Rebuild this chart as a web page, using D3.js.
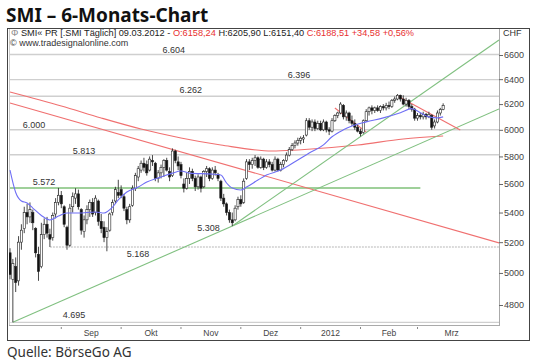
<!DOCTYPE html>
<html>
<head>
<meta charset="utf-8">
<script src="https://cdn.jsdelivr.net/npm/d3@7"></script>
<style>
body { margin:0; background:#fff; }
text { font-family: "Liberation Sans", Arial, sans-serif; }
</style>
</head>
<body>
<div id="chart-area"></div>
<script>
// daily candles, 08.08.2011 - 09.03.2012
var open = [
    5130,4960,5040,4950,5200,5290,5400,5370,5400,5290,5120,5040,5250,5320,5250,5230,5390,5470,
    5520,5440,5300,5180,5440,5500,5530,5420,5270,5350,5420,5470,5400,5480,5340,5300,5230,5280,5400,5480,5540,
    5560,5510,5420,5350,5450,5570,5650,5700,5750,5740,5700,5770,5750,5640,5680,5720,5770,5690,5660,5840,5760,
    5740,5600,5570,5640,5690,5640,5580,5650,5580,5690,5710,5640,5700,5670,5620,5500,5460,5400,5350,5350,5440,
    5490,5470,5640,5760,5740,5770,5790,5720,5780,5720,5760,5740,5700,5780,5700,5740,5770,5810,5850,5880,5900,
    5920,5930,5960,6070,6020,6060,6010,6050,6000,6060,6000,5990,6070,6110,6130,6190,6100,6130,6070,6050,6020,
    5990,5980,6070,6140,6170,6150,6170,6150,6180,6170,6190,6180,6230,6240,6270,6240,6200,6230,6180,6160,
    6090,6110,6100,6120,6100,6110,6030,6060,6130,6158.24];
var high = [
    5160,5090,5100,5240,5320,5440,5460,5470,5420,5300,5170,5330,5360,5370,5290,5400,5500,5572,
    5550,5450,5310,5460,5540,5570,5560,5430,5380,5450,5490,5500,5520,5490,5390,5340,5300,5400,5490,5580,5630,
    5590,5530,5440,5460,5590,5680,5730,5770,5790,5770,5800,5810,5760,5700,5740,5780,5790,5720,5860,5850,5800,
    5760,5640,5680,5720,5710,5660,5670,5660,5700,5730,5720,5720,5730,5680,5630,5530,5470,5420,5400,5450,5510,
    5520,5640,5780,5780,5790,5810,5800,5800,5790,5780,5780,5760,5800,5790,5760,5780,5830,5870,5900,5920,5940,
    5950,5960,6090,6090,6080,6080,6070,6070,6080,6070,6020,6090,6120,6140,6215,6200,6150,6140,6110,6080,6040,
    6010,6080,6160,6180,6190,6180,6190,6190,6200,6210,6220,6240,6260,6280,6275,6270,6250,6240,6200,6170,
    6130,6130,6140,6130,6140,6120,6080,6150,6170,6205.9];
var low = [
    4960,4695,4880,4920,5150,5260,5320,5330,5280,5100,4950,5030,5220,5230,5168,5210,5360,5450,
    5430,5300,5150,5170,5400,5460,5420,5250,5230,5320,5370,5370,5380,5310,5260,5200,5140,5270,5380,5460,5500,
    5500,5410,5320,5330,5440,5550,5620,5680,5690,5660,5690,5730,5620,5610,5640,5650,5690,5620,5650,5750,5700,
    5640,5540,5560,5600,5620,5550,5560,5540,5570,5650,5620,5630,5660,5620,5480,5440,5380,5330,5308,5340,5420,
    5440,5460,5630,5700,5710,5730,5710,5710,5700,5710,5720,5690,5690,5690,5690,5720,5760,5800,5840,5860,5880,
    5890,5900,5950,6000,5990,5990,6000,5990,5990,5980,5960,5980,6060,6090,6120,6080,6070,6050,6030,6000,5980,
    5950,5970,6060,6110,6120,6130,6140,6130,6150,6150,6160,6170,6210,6230,6220,6190,6180,6160,6140,6070,
    6070,6080,6080,6080,6090,6000,6010,6050,6110,6151.4];
var close = [
    4990,5060,4940,5200,5280,5400,5370,5420,5330,5130,5010,5250,5320,5260,5220,5380,5470,5520,
    5460,5320,5180,5430,5510,5530,5440,5280,5350,5420,5470,5390,5500,5340,5290,5230,5270,5390,5470,5560,5520,
    5520,5430,5350,5440,5570,5660,5710,5750,5720,5680,5780,5760,5640,5680,5720,5770,5700,5650,5840,5770,5730,
    5660,5570,5640,5690,5640,5580,5650,5570,5690,5710,5640,5700,5680,5640,5500,5460,5400,5350,5330,5430,5490,
    5460,5620,5760,5740,5770,5790,5720,5780,5720,5760,5740,5700,5780,5700,5740,5770,5810,5850,5880,5900,5920,
    5936,5940,6070,6020,6060,6010,6050,6000,6060,6000,5990,6070,6110,6130,6200,6100,6130,6070,6050,6020,5990,
    5970,6070,6140,6170,6150,6170,6150,6180,6170,6190,6180,6230,6240,6270,6240,6200,6230,6180,6160,6090,
    6110,6100,6120,6100,6120,6020,6060,6130,6158,6188.51];

// blue short moving average (sampled)
var maIdx = [0,2,4,6,8,11,14,17,20,24,30,33,36,38,41,45,48,53,57,60,63,71,74,76,78,81,83,87,90,95,
    101,105,110,113,117,120,125,131,137,141,144,147,150,152];
var maVal = [5700,5540,5480,5466,5431,5380,5349,5376,5397,5397,5404,5397,5438,5487,5543,5578,5614,5650,5678,5693,
    5678,5671,5664,5607,5571,5557,5578,5628,5664,5700,5774,5826,5886,5947,6000,6030,6061,6092,6132,6164,
    6132,6100,6092,6100];

// red long moving average (sampled)
var ma2Idx = [0,18,32,46,60,74,92,101,122,138,152];
var ma2Val = [6296,6185,6091,6006,5938,5885,5840,5848,5885,5930,5953];

// horizontal levels
var levelVal  = [6604, 6396, 6262, 6000, 5813, 5572, 5168, 4695];
var levelText = ["6.604","6.396","6.262","6.000","5.813","5.572","5.168","4.695"];
var levelFrom = [0, 0, 0, 0, 0, 0, 14, 1];
var levelTo   = [null, null, null, null, null, 144, null, null];

// trend lines: two anchor points [index, value]
var trendName = ["redDown", "greenLow", "greenSteep", "redJan", "redFeb"];
var trendFrom = [[0, 6209], [1, 4695], [78, 5308], [114, 6169], [136, 6264]];
var trendTo   = [[171.6, 5195], [78, 5308], [140, 6210], [125, 5984], [158, 5999]];
var trendExtend = [false, true, true, false, false];

// axes
var yTicks = [4800, 5000, 5200, 5400, 5600, 5800, 6000, 6200, 6400, 6600];
var monthTickIdx = [18, 39, 60, 81, 102, 123, 143];
var monthLabelIdx = [28.5, 49.5, 70.5, 91.5, 112.5, 133, 155];
var monthLabels = ["Sep", "Okt", "Nov", "Dez", "2012", "Feb", "Mrz"];

var lowPoint = { idx: 78, val: 5308, text: "5.308" };

var styles = {
    redDown: "#f07070", greenLow: "#80c080", greenSteep: "#80c080",
    redJan: "#f07070", redFeb: "#f07070"
};

//SVG
var svg = d3.select("#chart-area").append("svg")
    .attr("width", 535)
    .attr("height", 363);

var plotL = 9, plotR = 499, plotT = 29, plotB = 325;

//scales
var x = d3.scaleLinear().domain([0, 171.6]).range([10, 499]);
var y = d3.scaleLog().domain([4800, 6600]).range([305, 55]);

//Title
svg.append("text")
    .attr("x", 6)
    .attr("y", 22)
    .style("font-family", "'Noto Sans', sans-serif")
    .attr("font-weight", "bold")
    .attr("font-size", "19px")
    .attr("fill", "#111")
    .text("SMI \u2013 6-Monats-Chart");

//outer box
svg.append("rect")
    .attr("x", 7.5).attr("y", 28.5)
    .attr("width", 522).attr("height", 312)
    .attr("fill", "#fff")
    .attr("stroke", "#444");

//plot frame
svg.append("line").attr("x1", plotR + 0.5).attr("x2", plotR + 0.5)
    .attr("y1", plotT).attr("y2", plotB + 1)
    .attr("stroke", "#aaa");
svg.append("line").attr("x1", plotL).attr("x2", plotR)
    .attr("y1", plotB + 0.5).attr("y2", plotB + 0.5)
    .attr("stroke", "#aaa");
svg.append("line").attr("x1", plotL).attr("x2", plotR)
    .attr("y1", plotB - 2.5).attr("y2", plotB - 2.5)
    .attr("stroke", "#ddd");
svg.append("line").attr("x1", plotL + 0.5).attr("x2", plotL + 0.5)
    .attr("y1", plotT).attr("y2", plotB)
    .attr("stroke", "#ccc");

svg.append("clipPath").attr("id", "plot-clip")
    .append("rect")
    .attr("x", plotL).attr("y", plotT)
    .attr("width", plotR - plotL).attr("height", plotB - plotT);

var g = svg.append("g").attr("clip-path", "url(#plot-clip)");

//header
var head = svg.append("text")
    .attr("x", 11)
    .attr("y", 36)
    .attr("font-size", "9.2px")
    .attr("fill", "#222");
head.append("tspan").attr("fill", "#888").text("\u03a6 ");
head.append("tspan").text("SMI\u00ab PR [.SMI  T\u00e4glich] 09.03.2012 - ");
head.append("tspan").attr("fill", "#e83030").text("O:6158,24 ");
head.append("tspan").text("H:6205,90 L:6151,40 ");
head.append("tspan").attr("fill", "#e83030").text("C:6188,51 +34,58 +0,56%");

svg.append("text")
    .attr("x", 10)
    .attr("y", 46)
    .attr("font-size", "9px")
    .attr("fill", "#333")
    .text("\u00a9 www.tradesignalonline.com");

svg.append("text")
    .attr("x", 503)
    .attr("y", 36)
    .attr("font-size", "9px")
    .attr("fill", "#333")
    .text("CHF");

//horizontal levels
levelVal.forEach(function(v, k){
    var isGreen = (v === 5572);
    g.append("line")
        .attr("x1", x(levelFrom[k]))
        .attr("x2", levelTo[k] === null ? plotR : x(levelTo[k]))
        .attr("y1", y(v)).attr("y2", y(v))
        .attr("stroke", isGreen ? "#9fd09a" : "#cfcfcf")
        .attr("stroke-width", isGreen ? 2 : 1.4)
        .attr("stroke-dasharray", v === 5168 ? "2,1" : null);
});

//moving averages
var maLine = d3.line()
    .x(function(d){ return x(d[0]); })
    .y(function(d){ return y(d[1]); })
    .curve(d3.curveMonotoneX);

g.append("path")
    .attr("d", maLine(ma2Idx.map(function(d, k){ return [d, ma2Val[k]]; })))
    .attr("fill", "none")
    .attr("stroke", "#f07070")
    .attr("stroke-width", 1.1);

//trend lines
trendName.forEach(function(name, k){
    var x1 = x(trendFrom[k][0]), y1 = y(trendFrom[k][1]);
    var x2 = x(trendTo[k][0]), y2 = y(trendTo[k][1]);
    if (trendExtend[k]) {
        var slope = (y2 - y1) / (x2 - x1);
        y2 = y1 + slope * (plotR - x1);
        x2 = plotR;
    }
    g.append("line")
        .attr("x1", x1).attr("y1", y1)
        .attr("x2", x2).attr("y2", y2)
        .attr("stroke", styles[name])
        .attr("stroke-width", 1.1);
});

//candles
var candles = g.append("g");
close.forEach(function(c, i){
    var o = open[i];
    candles.append("line")
        .attr("x1", x(i)).attr("x2", x(i))
        .attr("y1", y(high[i])).attr("y2", y(low[i]))
        .attr("stroke", "#333")
        .attr("stroke-width", 0.9);
    var top = y(Math.max(o, c)), bot = y(Math.min(o, c));
    candles.append("rect")
        .attr("x", x(i) - 1.1)
        .attr("y", top)
        .attr("width", 2.2)
        .attr("height", Math.max(1, bot - top))
        .attr("fill", c >= o ? "#fff" : "#111")
        .attr("stroke", "#222")
        .attr("stroke-width", 0.6);
});

g.append("path")
    .attr("d", maLine(maIdx.map(function(d, k){ return [d, maVal[k]]; })))
    .attr("fill", "none")
    .attr("stroke", "#6f6ff5")
    .attr("stroke-width", 1.1);

//level labels
var labelIdx = [53.5, 97.5, 59.5, 4.5, 22, 8, 41, 18.5];
var labelDy = [-2, -2, -3, -2, -1, -3, 10, -4];
levelVal.forEach(function(v, k){
    svg.append("text")
        .attr("x", x(labelIdx[k]))
        .attr("y", y(v) + labelDy[k])
        .attr("font-size", "9px")
        .attr("fill", "#333")
        .text(levelText[k]);
});
svg.append("text")
    .attr("x", x(lowPoint.idx) - 35)
    .attr("y", y(lowPoint.val) + 5)
    .attr("font-size", "9px")
    .attr("fill", "#333")
    .text(lowPoint.text);

//Y axis (right)
var yAxisCall = d3.axisRight(y)
    .tickValues(yTicks)
    .tickSize(4)
    .tickPadding(1)
    .tickFormat(d3.format("d"));
var yAxis = svg.append("g")
    .attr("transform", "translate(" + plotR + ",0)")
    .call(yAxisCall);
yAxis.select(".domain").remove();
yAxis.selectAll("line").attr("stroke", "#666");
yAxis.selectAll("text")
    .attr("font-size", "9px")
    .attr("fill", "#444")
    .style("font-family", "'Liberation Sans', Arial, sans-serif");

//X axis (months)
var xAxis = svg.append("g");
monthTickIdx.forEach(function(d){
    xAxis.append("line")
        .attr("x1", x(d)).attr("x2", x(d))
        .attr("y1", plotB + 2).attr("y2", plotB + 4)
        .attr("stroke", "#888");
});
monthLabels.forEach(function(m, k){
    xAxis.append("text")
        .attr("x", x(monthLabelIdx[k]))
        .attr("y", 336)
        .attr("text-anchor", "middle")
        .attr("font-size", "8.5px")
        .attr("fill", "#444")
        .text(m);
});

//source
svg.append("text")
    .attr("x", 7)
    .attr("y", 357)
    .style("font-family", "'Noto Sans', sans-serif")
    .attr("font-size", "13.5px")
    .attr("fill", "#333")
    .text("Quelle: B\u00f6rseGo AG");
</script>
</body>
</html>
